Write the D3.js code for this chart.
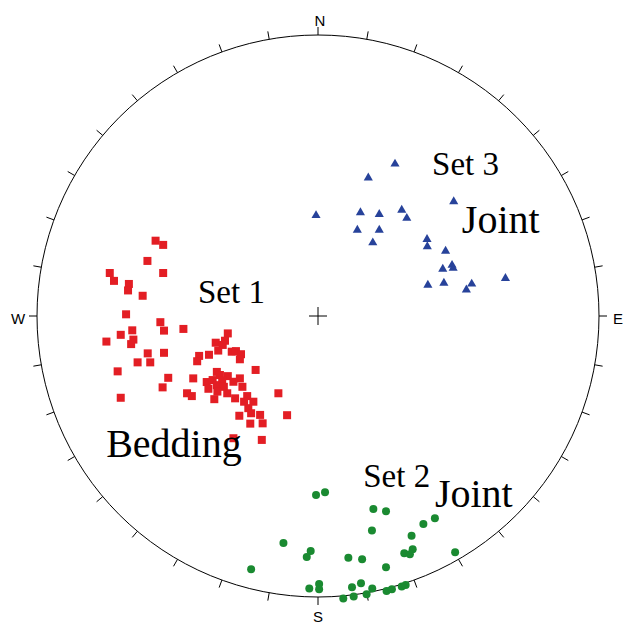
<!DOCTYPE html>
<html>
<head>
<meta charset="utf-8">
<script src="https://cdn.jsdelivr.net/npm/d3@7"></script>
<style>
html,body{margin:0;padding:0;background:#fff;}
svg{display:block;}
</style>
</head>
<body>
<svg id="chart" width="623" height="623"></svg>
<script>
// Projected pole positions on the stereonet (units: -100..100 of net radius; x east, y north)
const beddingX = [-57.8,-55.1,-60.7,-55.1,-74.1,-72.6,-67.3,-67.6,-62.4,-68.3,-56.1,-54.8,-47.9,-66.1,-70.2,-75.3,-65.7,-66.5,-60.6,-54.8,-64.2,-59.7,-71.3,-53.3,-44.4,-55.3,-46.6,-44.9,-70.2,-32.1,-36.4,-33.1,-33.9,-35.5,-38.8,-42.3,-43.0,-30.7,-29.2,-27.4,-27.8,-22.2,-36.0,-34.9,-32.1,-27.8,-39.6,-37.5,-34.1,-30.1,-39.0,-36.0,-33.5,-26.9,-35.8,-32.3,-36.9,-29.5,-25.2,-26.3,-23.0,-24.8,-23.8,-14.1,-20.6,-19.7,-28.0,-24.1,-11.0,-20.0,-30.1];
const beddingY = [26.8,25.3,19.6,15.3,15.3,12.5,11.4,9.1,7.2,0.6,-2.2,-5.2,-4.6,-5.1,-6.7,-9.1,-8.4,-10.0,-13.3,-13.1,-16.5,-16.5,-19.7,-22.0,-22.2,-25.4,-27.5,-28.5,-29.1,-6.2,-9.5,-8.8,-10.3,-12.3,-13.8,-14.2,-16.1,-12.7,-12.5,-13.6,-15.4,-19.2,-19.9,-21.0,-21.4,-22.2,-23.5,-22.8,-23.0,-23.4,-25.9,-24.6,-25.2,-25.2,-26.9,-27.5,-29.6,-29.3,-28.5,-30.5,-30.5,-32.8,-34.6,-27.5,-35.2,-38.2,-35.5,-38.3,-35.3,-44.1,-43.5];

const joint2X = [2.5,-0.7,19.7,24.2,41.6,37.5,19.2,33.3,-12.3,-2.6,-4.0,33.7,30.7,32.7,48.8,10.8,15.7,24.2,-23.8,-3.1,0.4,0.4,15.3,12.1,19.3,24.4,26.3,29.8,31.2,9.0,12.7,17.3];
const joint2Y = [-62.7,-63.7,-68.7,-69.5,-72.0,-74.0,-76.3,-78.2,-80.8,-83.6,-85.8,-83.0,-84.4,-84.8,-84.1,-86.0,-86.6,-89.4,-90.1,-97.0,-95.4,-97.2,-95.1,-96.5,-97.0,-97.9,-97.2,-96.3,-95.7,-100.5,-99.8,-99.0];

const joint3X = [27.4,17.9,-0.7,15.1,21.8,29.8,31.6,48.3,14.0,21.8,19.5,38.8,38.9,45.4,44.4,47.7,48.1,39.1,44.8,54.7,52.8,66.7];
const joint3Y = [54.1,49.2,35.8,36.8,36.2,37.7,34.8,40.7,30.6,30.6,26.1,27.3,24.7,23.1,16.7,18.1,17.0,11.0,11.7,11.4,9.3,13.4];

const directions = ["N","E","S","W"];
const tickDegrees = d3.range(0, 360, 10);

const labelTexts = ["Set 3","Joint","Set 1","Bedding","Set 2","Joint"];
const labelX = [40.6, 51.2, -42.7, -75.4, 16.1, 41.6];
const labelY = [50.2, 29.5, 4.6, -50.2, -60.7, -68.0];
const labelSize = ["set","name","set","name","set","name"];

// ---- drawing ----
const svg = d3.select("#chart");
const cx = 318, cy = 316, R = 281;
const x = d3.scaleLinear().domain([-100,100]).range([cx-R, cx+R]);
const y = d3.scaleLinear().domain([-100,100]).range([cy+R, cy-R]);

svg.append("rect").attr("width",623).attr("height",623).attr("fill","#fff");

svg.append("circle").attr("cx",cx).attr("cy",cy).attr("r",R)
  .attr("fill","none").attr("stroke","#000").attr("stroke-width",1);

const rad = d => d*Math.PI/180;
svg.append("g").selectAll("line").data(tickDegrees).join("line")
  .attr("x1", d => cx + R*Math.sin(rad(d)))
  .attr("y1", d => cy - R*Math.cos(rad(d)))
  .attr("x2", d => cx + (R+8)*Math.sin(rad(d)))
  .attr("y2", d => cy - (R+8)*Math.cos(rad(d)))
  .attr("stroke","#000").attr("stroke-width",1);

svg.append("g").selectAll("text").data(directions).join("text")
  .attr("x", (d,i) => cx + (R + (i===0?15:19))*Math.sin(rad(i*90)) + (i===0?2:0))
  .attr("y", (d,i) => cy - (R + (i===0?15:19))*Math.cos(rad(i*90)) + (i===1||i===3?2:0))
  .attr("text-anchor","middle").attr("dominant-baseline","central")
  .attr("font-family","'Liberation Sans', Arial, sans-serif").attr("font-size",15)
  .attr("fill","#000").text(d => d);

// centre cross
svg.append("line").attr("x1",x(0)-9).attr("x2",x(0)+9).attr("y1",y(0)).attr("y2",y(0)).attr("stroke","#000");
svg.append("line").attr("x1",x(0)).attr("x2",x(0)).attr("y1",y(0)-9).attr("y2",y(0)+9).attr("stroke","#000");

// bedding squares
svg.append("g").selectAll("rect").data(d3.range(beddingX.length)).join("rect")
  .attr("x", i => x(beddingX[i]) - 4).attr("y", i => y(beddingY[i]) - 4)
  .attr("width",8).attr("height",8).attr("fill","#e31e24");

// set 2 circles
svg.append("g").selectAll("circle").data(d3.range(joint2X.length)).join("circle")
  .attr("cx", i => x(joint2X[i])).attr("cy", i => y(joint2Y[i])).attr("r",4)
  .attr("fill","#1a8a31");

// set 3 triangles
const tri = d3.symbol().type(d3.symbolTriangle).size(36);
svg.append("g").selectAll("path").data(d3.range(joint3X.length)).join("path")
  .attr("d", tri)
  .attr("transform", i => `translate(${x(joint3X[i])},${y(joint3Y[i])})`)
  .attr("fill","#27429a");

// labels
svg.append("g").selectAll("text").data(labelTexts).join("text")
  .attr("x",(d,i) => x(labelX[i])).attr("y",(d,i) => y(labelY[i]))
  .attr("font-family","'Liberation Serif','Times New Roman',serif")
  .attr("font-size",(d,i) => labelSize[i]==="set"?33:40)
  .attr("fill","#000").text(d => d);
</script>
</body>
</html>
